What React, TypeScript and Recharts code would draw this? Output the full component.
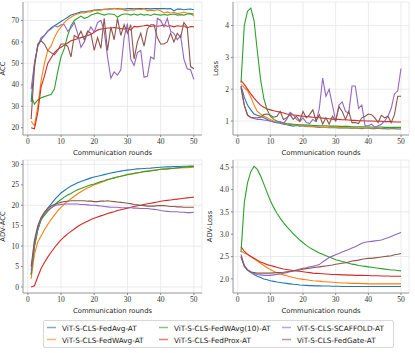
import React from 'react';
import { LineChart, Line, XAxis, YAxis, CartesianGrid } from 'recharts';

const rounds = [1,2,3,4,5,6,7,8,9,10,11,12,13,14,15,16,17,18,19,20,21,22,23,24,25,26,27,28,29,30,31,32,33,34,35,36,37,38,39,40,41,42,43,44,45,46,47,48,49,50];
const xTicks = [0, 10, 20, 30, 40, 50];

const seriesNames = ['ViT-S-CLS-FedAvg-AT','ViT-S-CLS-FedWAvg-AT','ViT-S-CLS-FedWAvg(10)-AT','ViT-S-CLS-FedProx-AT','ViT-S-CLS-SCAFFOLD-AT','ViT-S-CLS-FedGate-AT'];
const seriesColors = ['#1f77b4','#ff7f0e','#2ca02c','#d62728','#9467bd','#8c564b'];

// ACC
const accFedAvg = [32,50,58,61,63,65,66.5,67.5,68.5,69.5,70.5,71.5,72.5,73,73.5,74,74,74.3,74.5,74.8,75,75,75.2,75.3,75.4,75.5,75.5,75.4,75.3,75.5,75.5,75.4,75.5,75.5,75.6,75.5,75.4,75.5,75.5,75.5,75.6,75.4,75.5,74.5,75.3,75.3,75,75.2,75.3,75];
const accFedWAvg = [23,21,30,42,50,56,58,62,65,67,69,70.5,71.5,72.5,73,73.5,73.5,74,74,74.8,74.5,74.8,75.2,75,75.3,75.6,75.3,75.5,74.8,74.5,75,74.8,75.3,75,75.5,74.5,74.8,74.5,75,74.5,73.5,74,73.5,73.8,73.2,73.5,73.8,73.5,73.2,72];
const accFedWAvg10 = [35,31,33,34,34.5,35,35.5,38,46,53,57,63,67.5,70,71,72,71,71.5,72.5,73,73.5,73,72.5,73,73,72.8,71.5,72.5,73,73,72.5,73,72.5,73,72.5,72.8,72.3,73,72.7,72.5,72.8,72.5,72.8,73,72.5,72.7,72.5,73,73.2,73];
const accFedProx = [20,19.5,27,39,44,50,52.5,55,56.5,57.5,58.5,59.5,60.5,61,61.5,62,62.5,63,63.5,64.5,65.5,66,66.2,66.5,66.5,66.7,66.5,66.2,66,66.3,65.5,67.2,67,67.3,67.5,67.8,67.2,67.5,67.3,67.5,67.8,67.3,67.5,67,67.5,67.3,67.5,66.5,67.2,67];
const accScaffold = [38,50,58,62,63,65,66,67.5,67,68,68,65,66.5,69,64,57.5,60,64,67,64.5,69,70,65,53,43,46,44.5,47,62,68.5,52,49,55,56,43.5,44,53,52,71,70,67,71,65,64,61,63,52,47.5,47,42.5];
const accFedGate = [24,48,59,60.5,59,56,55,54,56,59,59,58,53,63,62,65,61,65,64,56,62,57,71,56,67,61,71,63,68,64,68,52,60,64,58,66,68,68,62,59,59,60,64,60,64,62,69,67,48.5,47.5];

// Loss
const lossFedAvg = [2.1,1.75,1.5,1.35,1.22,1.18,1.15,1.1,1.05,1.0,0.97,0.95,0.93,0.9,0.88,0.86,0.84,0.86,0.84,0.85,0.83,0.82,0.82,0.81,0.8,0.8,0.8,0.79,0.79,0.79,0.78,0.78,0.79,0.78,0.77,0.78,0.77,0.76,0.77,0.77,0.76,0.76,0.77,0.76,0.76,0.75,0.76,0.76,0.75,0.75];
const lossFedWAvg = [2.15,2.05,1.95,1.75,1.5,1.3,1.22,1.15,1.1,1.05,1.0,0.97,0.95,0.92,0.9,0.89,0.88,0.87,0.86,0.85,0.84,0.83,0.83,0.82,0.81,0.8,0.8,0.8,0.81,0.8,0.79,0.8,0.79,0.78,0.79,0.78,0.78,0.79,0.78,0.78,0.77,0.78,0.78,0.77,0.78,0.78,0.77,0.78,0.78,0.78];
const lossFedWAvg10 = [2.2,4.0,4.45,4.55,4.15,3.2,2.3,1.7,1.35,1.15,1.05,1.0,0.97,0.94,0.92,0.91,0.9,0.89,0.88,0.88,0.87,0.87,0.86,0.86,0.85,0.85,0.85,0.84,0.84,0.84,0.83,0.83,0.83,0.83,0.82,0.82,0.82,0.82,0.82,0.81,0.81,0.81,0.81,0.81,0.8,0.8,0.8,0.8,0.8,0.8];
const lossFedProx = [2.27,2.15,2.0,1.85,1.72,1.6,1.5,1.43,1.38,1.35,1.32,1.3,1.28,1.25,1.22,1.2,1.19,1.18,1.16,1.15,1.14,1.13,1.12,1.11,1.1,1.09,1.08,1.07,1.06,1.05,1.05,1.04,1.04,1.03,1.02,1.02,1.01,1.01,1.0,1.0,1.0,0.99,0.99,0.99,0.98,0.98,0.98,0.97,0.97,0.97];
const lossScaffold = [2.1,1.5,1.2,1.1,1.08,1.05,1.05,1.03,1.02,1.0,0.97,0.95,0.98,0.93,1.05,1.27,1.2,1.05,0.98,1.1,0.95,0.92,1.05,0.98,1.4,2.35,1.78,2.0,1.5,1.0,1.5,1.6,1.3,1.25,2.1,2.1,1.4,1.5,0.85,0.85,0.9,0.8,0.85,0.9,1.0,1.15,1.4,1.85,1.95,2.65];
const lossFedGate = [2.05,1.5,1.18,1.12,1.1,1.1,1.12,1.2,1.22,1.18,1.12,1.15,1.3,1.05,1.1,1.2,1.05,1.15,1.0,1.3,1.1,1.2,1.35,1.0,1.2,0.9,1.1,0.9,1.15,1.0,1.45,1.3,1.05,1.3,0.95,0.95,0.92,1.1,1.15,1.22,1.2,1.1,0.95,1.18,1.1,1.15,0.95,1.2,1.78,1.78];

// ADV-ACC
const advAccFedAvg = [3,10,14,16.5,18,19.3,20.3,21.3,22.2,23,23.6,24.2,24.7,25.1,25.5,25.8,26.1,26.4,26.7,26.9,27.1,27.3,27.5,27.7,27.9,28.05,28.2,28.35,28.5,28.6,28.7,28.8,28.9,28.95,29.0,29.05,29.1,29.2,29.25,29.3,29.35,29.4,29.4,29.45,29.5,29.5,29.55,29.55,29.6,29.6];
const advAccFedWAvg = [2,8,11,12.5,14,15.3,16.5,17.6,18.6,19.5,20.3,21,21.6,22.2,22.8,23.3,23.8,24.2,24.6,25,25.3,25.6,25.9,26.2,26.5,26.7,26.9,27.1,27.3,27.6,27.7,27.8,28.0,28.1,28.3,28.4,28.5,28.6,28.7,28.8,28.85,28.9,28.95,29.0,29.1,29.15,29.2,29.2,29.25,29.3];
const advAccFedWAvg10 = [3,10,14,16.5,17.5,18.5,19.3,20,20.8,21.4,22,22.5,22.9,23.4,23.8,24.1,24.4,24.7,25,25.2,25.5,25.8,26,26.3,26.5,26.7,26.9,27.1,27.3,27.5,27.6,27.8,27.9,28.1,28.2,28.3,28.4,28.5,28.65,28.8,28.85,28.9,29.0,29.05,29.2,29.25,29.3,29.4,29.45,29.5];
const advAccFedProx = [0,0.3,2.5,4.5,6,7.3,8.5,9.6,10.6,11.5,12.3,13,13.6,14.2,14.8,15.3,15.7,16.1,16.5,16.8,17.1,17.4,17.7,18,18.2,18.4,18.7,18.9,19.1,19.3,19.5,19.7,19.9,20.0,20.2,20.35,20.5,20.65,20.8,21,21.1,21.2,21.3,21.4,21.5,21.6,21.7,21.8,21.9,22];
const advAccScaffold = [4,11,14.5,16.8,18,18.8,19.4,19.8,20.1,20.2,20.3,20.3,20.3,20.3,20.3,20.2,20.2,20.1,20.0,20.0,19.9,19.8,19.7,19.6,19.5,19.5,19.5,19.4,19.4,19.4,19.4,19.3,19.3,19.2,19.2,19.2,19.1,19.0,18.9,18.7,18.6,18.5,18.4,18.4,18.4,18.3,18.3,18.2,18.2,18.3];
const advAccFedGate = [5,11.5,15,17,18.3,19.2,19.8,20.2,20.5,20.7,20.9,21,21.1,21.1,21.1,21.1,21.1,21,21,20.9,20.9,21,21,21.1,21,20.9,20.8,20.7,20.6,20.5,20.4,20.2,20.1,20,19.9,19.8,19.8,19.8,19.9,19.9,19.9,19.8,19.7,19.7,19.6,19.6,19.5,19.5,19.5,19.5];

// ADV-Loss
const advLossFedAvg = [2.5,2.3,2.2,2.14,2.1,2.06,2.03,2.0,1.98,1.96,1.945,1.93,1.92,1.91,1.9,1.89,1.88,1.875,1.865,1.86,1.855,1.85,1.85,1.845,1.845,1.84,1.84,1.84,1.835,1.835,1.835,1.83,1.83,1.83,1.83,1.83,1.83,1.83,1.83,1.83,1.83,1.83,1.83,1.83,1.83,1.83,1.83,1.83,1.83,1.83];
const advLossFedWAvg = [2.62,2.58,2.55,2.5,2.45,2.4,2.35,2.3,2.25,2.21,2.17,2.14,2.11,2.09,2.07,2.05,2.03,2.015,2.0,1.99,1.98,1.97,1.96,1.955,1.95,1.94,1.935,1.93,1.925,1.92,1.915,1.91,1.91,1.905,1.9,1.9,1.9,1.895,1.895,1.89,1.89,1.89,1.89,1.89,1.89,1.89,1.89,1.89,1.89,1.89];
const advLossFedWAvg10 = [2.6,3.7,4.15,4.4,4.52,4.45,4.3,4.12,3.93,3.75,3.6,3.47,3.36,3.26,3.17,3.09,3.01,2.94,2.87,2.81,2.75,2.7,2.66,2.62,2.58,2.55,2.52,2.49,2.46,2.43,2.41,2.39,2.37,2.35,2.33,2.32,2.3,2.29,2.28,2.27,2.26,2.25,2.24,2.23,2.22,2.21,2.2,2.2,2.19,2.18];
const advLossFedProx = [2.72,2.62,2.55,2.5,2.46,2.42,2.38,2.35,2.32,2.3,2.28,2.26,2.24,2.22,2.21,2.2,2.19,2.18,2.17,2.16,2.15,2.14,2.13,2.125,2.12,2.115,2.11,2.105,2.1,2.1,2.095,2.09,2.09,2.085,2.085,2.08,2.08,2.08,2.075,2.075,2.07,2.07,2.07,2.065,2.065,2.065,2.06,2.06,2.06,2.06];
const advLossScaffold = [2.55,2.3,2.2,2.15,2.12,2.1,2.09,2.08,2.08,2.08,2.09,2.1,2.11,2.13,2.14,2.16,2.18,2.2,2.22,2.24,2.25,2.27,2.28,2.3,2.32,2.38,2.43,2.48,2.51,2.54,2.57,2.6,2.63,2.66,2.69,2.72,2.76,2.8,2.82,2.83,2.84,2.85,2.86,2.87,2.9,2.92,2.95,2.98,3.01,3.04];
const advLossFedGate = [2.5,2.28,2.2,2.16,2.14,2.13,2.13,2.13,2.13,2.13,2.135,2.14,2.145,2.15,2.16,2.17,2.18,2.19,2.2,2.22,2.23,2.24,2.25,2.26,2.27,2.28,2.29,2.3,2.31,2.33,2.34,2.35,2.36,2.38,2.4,2.41,2.42,2.44,2.45,2.46,2.46,2.47,2.48,2.49,2.5,2.51,2.52,2.54,2.55,2.57];

const accTicks = [20, 30, 40, 50, 60, 70];
const lossTicks = [1, 2, 3, 4];
const advAccTicks = [0, 5, 10, 15, 20, 25, 30];
const advLossTicks = [2.0, 2.5, 3.0, 3.5, 4.0, 4.5];

function build(series: number[][]) {
  return rounds.map((r, i) => {
    const row: any = { round: r };
    series.forEach((s, k) => { row['s' + k] = s[i]; });
    return row;
  });
}

const tickFont = { fontFamily: 'Liberation Serif', fontSize: 7.5, fill: '#333' };
const labelFont = { fontFamily: 'DejaVu Sans', fontSize: 6.8, fill: '#222' };
const SPINE = '#8a8a8a';

function Panel(props: { left: number; top: number; yw: number; rm: number; data: any[]; domain: [number, number]; ticks: number[]; ylabel: string; ylabelOffset: number; fmt?: (v: number) => string }) {
  const { left, top, yw, rm, data, domain, ticks, ylabel, ylabelOffset, fmt } = props;
  return (
    <div style={{ position: 'absolute', left, top }}>
      <LineChart width={210} height={160} data={data} margin={{ top: 2, right: rm, bottom: 0, left: 0 }}>
        <CartesianGrid stroke="#e6e6e6" strokeWidth={0.8} />
        <XAxis dataKey="round" type="number" domain={[-1.45, 52.45]} ticks={xTicks} height={25}
          tick={tickFont} tickSize={2} tickMargin={1.5} stroke={SPINE} axisLine={{ stroke: SPINE, strokeWidth: 0.8 }} tickLine={{ stroke: SPINE }}
          allowDataOverflow
          label={{ value: 'Communication rounds', position: 'insideBottom', offset: 5, style: labelFont }} />
        <XAxis xAxisId="top" orientation="top" dataKey="round" type="number" domain={[-1.45, 52.45]} height={0} tick={false} tickLine={false} axisLine={{ stroke: SPINE, strokeWidth: 0.8 }} />
        <YAxis type="number" domain={domain} ticks={ticks} width={yw} allowDataOverflow
          tick={tickFont} tickSize={2} tickMargin={2} tickFormatter={fmt}
          axisLine={{ stroke: SPINE, strokeWidth: 0.8 }} tickLine={{ stroke: SPINE }}
          label={{ value: ylabel, angle: -90, position: 'insideLeft', offset: ylabelOffset, style: { ...labelFont, textAnchor: 'middle' } }} />
        <YAxis yAxisId="right" orientation="right" type="number" domain={domain} width={0} tick={false} tickLine={false} axisLine={{ stroke: SPINE, strokeWidth: 0.8 }} />
        {seriesColors.map((c, k) => (
          <Line key={k} dataKey={'s' + k} stroke={c} strokeWidth={1.1} dot={false} isAnimationActive={false} name={seriesNames[k]} />
        ))}
      </LineChart>
    </div>
  );
}

function LegendBox() {
  const cols = [[0, 1], [2, 3], [4, 5]];
  const colX = [0, 112, 235];
  return (
    <div style={{ position: 'absolute', left: 43, top: 320, width: 349, height: 26, border: '1px solid #d8d8d8', borderRadius: 2, background: '#fff' }}>
      <svg width={349} height={26} style={{ position: 'absolute', left: 0, top: 0 }}>
        {cols.map((col, ci) => col.map((k, ri) => (
          <g key={k}>
            <line x1={colX[ci] + 3} x2={colX[ci] + 12} y1={6.5 + ri * 12} y2={6.5 + ri * 12} stroke={seriesColors[k]} strokeOpacity={0.6} strokeWidth={1.5} />
            <text x={colX[ci] + 18} y={9.5 + ri * 12} style={{ fontFamily: 'DejaVu Sans', fontSize: 7.3, fill: '#222' }}>{seriesNames[k]}</text>
          </g>
        )))}
      </svg>
    </div>
  );
}

export default function App() {
  const accData = build([accFedAvg, accFedWAvg, accFedWAvg10, accFedProx, accScaffold, accFedGate]);
  const lossData = build([lossFedAvg, lossFedWAvg, lossFedWAvg10, lossFedProx, lossScaffold, lossFedGate]);
  const advAccData = build([advAccFedAvg, advAccFedWAvg, advAccFedWAvg10, advAccFedProx, advAccScaffold, advAccFedGate]);
  const advLossData = build([advLossFedAvg, advLossFedWAvg, advLossFedWAvg10, advLossFedProx, advLossScaffold, advLossFedGate]);
  return (
    <div style={{ position: 'absolute', left: 0, top: 0, width: 415, height: 353, background: '#fff' }}>
      <Panel left={0} top={0} yw={23} rm={8} data={accData} domain={[16.6, 78.6]} ticks={accTicks} ylabel="ACC" ylabelOffset={3} />
      <Panel left={205} top={0} yw={28} rm={6} data={lossData} domain={[0.56, 4.74]} ticks={lossTicks} ylabel="Loss" ylabelOffset={11} />
      <Panel left={0} top={158} yw={23} rm={8} data={advAccData} domain={[-1.48, 31.08]} ticks={advAccTicks} ylabel="ADV-ACC" ylabelOffset={3} />
      <Panel left={205} top={158} yw={28} rm={6} data={advLossData} domain={[1.685, 4.66]} ticks={advLossTicks} ylabel="ADV-Loss" ylabelOffset={5} fmt={(v: number) => v.toFixed(1)} />
      <LegendBox />
    </div>
  );
}
